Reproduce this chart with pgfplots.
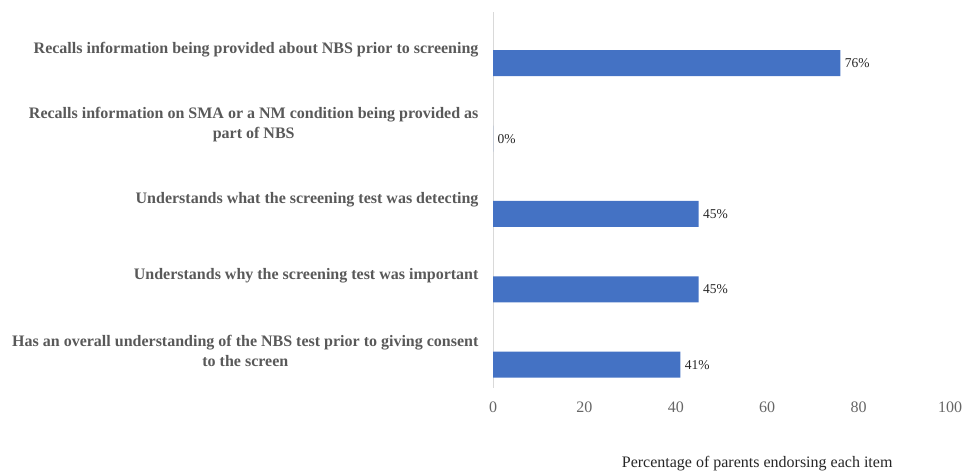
\documentclass[border=0pt]{standalone}
\usepackage{pgfplots}
\pgfplotsset{compat=1.18}
\usepackage{fontspec}
\setmainfont{Liberation Serif}
\definecolor{barblue}{HTML}{4472C4}
\definecolor{txtgray}{HTML}{595959}
\definecolor{axgray}{HTML}{D9D9D9}
\begin{document}
\begin{tikzpicture}
\useasboundingbox (0pt,0pt) rectangle (963pt,-475pt);
\begin{axis}[
  at={(493pt,-388pt)}, anchor=south west,
  scale only axis, width=457pt, height=376pt,
  xbar, bar width=26pt,
  xmin=0, xmax=100,
  ymin=-0.68, ymax=4.31, y dir=reverse,
  xtick={0,20,40,60,80,100},
  ytick={0,1,2,3,4},
  yticklabels={
    {Recalls information being provided about NBS prior to screening},
    {Recalls information on SMA or a NM condition being provided as\\part of NBS},
    {Understands what the screening test was detecting},
    {Understands why the screening test was important},
    {Has an overall understanding of the NBS test prior to giving consent\\to the screen}},
  yticklabel style={align=center, font=\fontsize{16}{20}\selectfont\bfseries, text=txtgray, yshift=14pt, xshift=-11pt},
  xticklabel style={font=\fontsize{16}{19}\selectfont, text=black!60, yshift=-10pt},
  /pgf/number format/assume math mode=true,
  major tick length=0pt,
  axis x line*=bottom,
  axis y line*=left,
  x axis line style={draw=none},
  y axis line style={draw=axgray, line width=0.8pt, -},
  xlabel={Percentage of parents endorsing each item},
  xlabel style={at={(axis description cs:0.578,-0.202)}, anchor=center, font=\fontsize{16}{19}\selectfont, text=black!85},
  nodes near coords={\pgfmathprintnumber{\pgfplotspointmeta}\%},
  nodes near coords style={font=\fontsize{13.5}{16}\selectfont, text=black!85, xshift=1pt},
  clip=false,
]
\addplot[fill=barblue, draw=none] coordinates {(76,0) (0,1) (45,2) (45,3) (41,4)};
\end{axis}
\end{tikzpicture}
\end{document}
